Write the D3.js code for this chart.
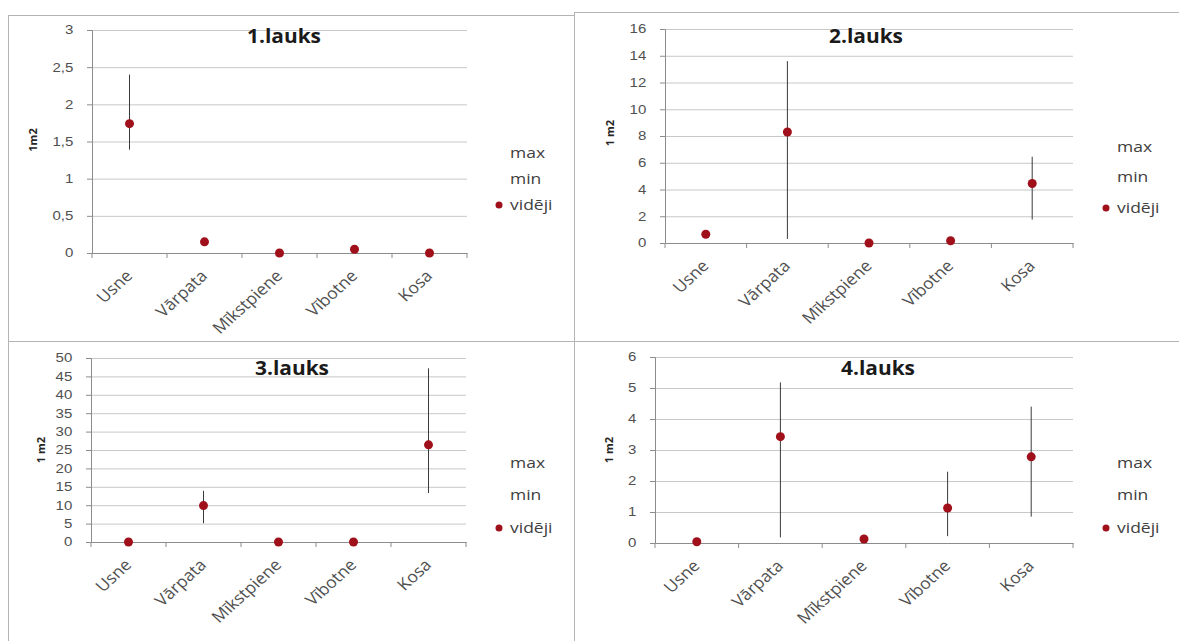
<!DOCTYPE html>
<meta charset="utf-8">
<style>
body { margin: 0; background: #fff; }
svg { font-family: "Open Sans", "DejaVu Sans", sans-serif; }
.axis .tick text { fill: #505050; font-size: 12px; }
.axis path, .axis line { stroke: #8c8c8c; }
.grid line { stroke: #c8c8c8; }
.grid path { display: none; }
.xlab { fill: #505050; font-size: 16px; }
.title { font-weight: bold; font-size: 19px; fill: #1a1a1a; }
.ylab { font-weight: bold; font-size: 11px; fill: #262626; }
.legend { font-size: 14px; fill: #404040; }
.whisker { stroke: #3a3a3a; stroke-width: 1; }
.dot { fill: #a0101a; }
</style>
<svg></svg>
<script src="https://cdn.jsdelivr.net/npm/d3@7"></script>
<script>
var categories = ["Usne", "Vārpata", "Mīkstpiene", "Vībotne", "Kosa"];
var titles = ["1.lauks", "2.lauks", "3.lauks", "4.lauks"];
var yLabels = ["1m2", "1 m2", "1 m2", "1 m2"];
var legendNames = ["max", "min", "vidēji"];

// vidēji / min / max per field (null = no bar)
var avg1 = [1.74, 0.15, 0, 0.05, 0];
var min1 = [1.39, null, null, null, null];
var max1 = [2.4, null, null, null, null];

var avg2 = [0.65, 8.3, 0, 0.17, 4.45];
var min2 = [null, 0.3, null, null, 1.75];
var max2 = [null, 13.6, null, null, 6.45];

var avg3 = [0, 9.9, 0, 0, 26.4];
var min3 = [null, 5.1, null, null, 13.3];
var max3 = [null, 13.9, null, null, 47.2];

var avg4 = [0.04, 3.43, 0.13, 1.13, 2.78];
var min4 = [null, 0.18, null, 0.22, 0.85];
var max4 = [null, 5.18, null, 2.3, 4.4];

var yMax = [3, 16, 50, 6];
var yStep = [0.5, 2, 5, 1];

var W = 1179, H = 641;
var sx = 1.25; // the source image is stretched sideways, so is its text
var svg = d3.select("svg").attr("width", W).attr("height", H);

// panel layout: frame + plot area
var panels = [
  {frame: [8, 15, 574, 341],   plot: [92, 467, 30, 253],  title: [284, 43],  leg: [499, 153, 179, 205], ylab: [33, 140],
   avg: avg1, min: min1, max: max1},
  {frame: [574, 12, 1179, 341], plot: [665, 1073, 29, 243], title: [866, 43],  leg: [1106, 147, 177, 208], ylab: [610, 133],
   avg: avg2, min: min2, max: max2},
  {frame: [8, 341, 574, 641],  plot: [91, 466, 358, 542],  title: [292, 375], leg: [499, 463, 495, 528], ylab: [41, 450],
   avg: avg3, min: min3, max: max3},
  {frame: [574, 341, 1179, 641], plot: [655, 1073, 357, 543], title: [878, 375], leg: [1106, 463, 495, 528], ylab: [609, 450],
   avg: avg4, min: min4, max: max4}
];

var fmt = function(d) { return String(d).replace(".", ","); };

panels.forEach(function(p, i) {
  var g = svg.append("g");

  g.append("rect")
      .attr("x", p.frame[0] + 0.5).attr("y", p.frame[1] + 0.5)
      .attr("width", p.frame[2] - p.frame[0]).attr("height", p.frame[3] - p.frame[1])
      .attr("fill", "none").attr("stroke", "#b4b4b4");

  var x = d3.scaleBand().domain(categories).range([p.plot[0], p.plot[1]]),
      y = d3.scaleLinear().domain([0, yMax[i]]).range([p.plot[3], p.plot[2]]);
  var ticks = d3.range(0, yMax[i] + yStep[i] / 2, yStep[i]);

  g.append("g")
      .attr("class", "grid")
      .attr("transform", "translate(" + p.plot[0] + ",0)")
      .call(d3.axisRight(y).tickValues(ticks.slice(1)).tickSize(p.plot[1] - p.plot[0]).tickFormat(""));

  g.append("g")
      .attr("class", "axis")
      .attr("transform", "translate(" + p.plot[0] + ",0)")
      .call(d3.axisLeft(y).tickValues(ticks).tickSizeOuter(0).tickSize(5).tickPadding(10).tickFormat(fmt))
    .selectAll(".tick text")
      .attr("transform", "scale(" + sx + ",1)");

  var xa = g.append("g")
      .attr("class", "axis")
      .attr("transform", "translate(0," + p.plot[3] + ")")
      .call(d3.axisBottom(x).tickSize(0).tickSizeOuter(0).tickFormat(""));
  xa.selectAll(".sep")
    .data(d3.range(categories.length + 1))
    .enter().append("line")
      .attr("class", "sep")
      .attr("x1", function(d) { return p.plot[0] + d * x.step(); })
      .attr("x2", function(d) { return p.plot[0] + d * x.step(); })
      .attr("y1", 0).attr("y2", 5)
      .attr("stroke", "#8c8c8c");

  g.selectAll(".xlab")
    .data(categories)
    .enter().append("text")
      .attr("class", "xlab")
      .attr("text-anchor", "end")
      .attr("transform", function(d) {
        return "translate(" + (x(d) + x.bandwidth() / 2 + 4) + "," + (p.plot[3] + 24) + ") scale(1.1,1) rotate(-45)";
      })
      .text(function(d) { return d; });

  g.selectAll(".whisker")
    .data(categories.filter(function(c, j) { return p.max[j] != null; }))
    .enter().append("line")
      .attr("class", "whisker")
      .attr("x1", function(d) { return x(d) + x.bandwidth() / 2; })
      .attr("x2", function(d) { return x(d) + x.bandwidth() / 2; })
      .attr("y1", function(d) { return y(p.max[categories.indexOf(d)]); })
      .attr("y2", function(d) { return y(p.min[categories.indexOf(d)]); });

  g.selectAll(".dot")
    .data(categories)
    .enter().append("circle")
      .attr("class", "dot")
      .attr("cx", function(d) { return x(d) + x.bandwidth() / 2; })
      .attr("cy", function(d, j) { return y(p.avg[j]); })
      .attr("r", 4.5);

  g.append("text")
      .attr("class", "title")
      .attr("transform", "translate(" + p.title[0] + "," + p.title[1] + ") scale(1.1,1)")
      .attr("text-anchor", "middle")
      .text(titles[i]);

  g.append("text")
      .attr("class", "ylab")
      .attr("transform", "translate(" + (p.ylab[0] + 4) + "," + p.ylab[1] + ") rotate(-90)")
      .attr("text-anchor", "middle")
      .text(yLabels[i]);

  legendNames.forEach(function(n, k) {
    g.append("text")
        .attr("class", "legend")
        .attr("transform", "translate(" + (p.leg[0] + 11) + "," + (p.leg[k + 1] + 5) + ") scale(" + sx + ",1)")
        .text(n);
  });
  g.append("circle")
      .attr("class", "dot")
      .attr("cx", p.leg[0]).attr("cy", p.leg[3])
      .attr("r", 3.5);
});
</script>
